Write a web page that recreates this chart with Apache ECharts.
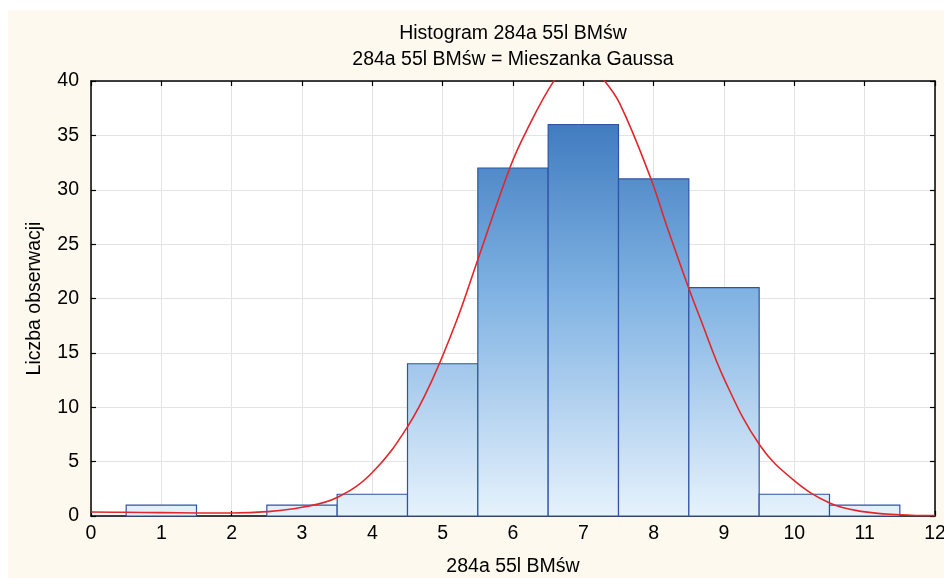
<!DOCTYPE html>
<html>
<head>
<meta charset="utf-8">
<script src="https://cdn.jsdelivr.net/npm/echarts@6/dist/echarts.min.js"></script>
<style>
  html, body { margin: 0; padding: 0; background: #ffffff; }
  #chart { position: absolute; left: 8px; top: 10px; width: 936px; height: 568px; }
</style>
</head>
<body>
<div id="chart"></div>
<script>
// bin centres and counts of the histogram
const binCenters = [1, 2, 3, 4, 5, 6, 7, 8, 9, 10, 11];
const binCounts = [1, 0, 1, 2, 14, 32, 36, 31, 21, 2, 1];
const binWidth = 1;

// fitted Gaussian mixture curve
const curveX = [0, 0.5, 1, 1.5, 2, 2.5, 3, 3.5, 4, 4.5, 4.85, 5.2, 5.48, 5.96, 6.19, 6.57, 6.75, 6.93, 7.1, 7.29, 7.52, 7.95, 8.19, 8.49, 8.66, 9.01, 9.51, 9.99, 10.51, 10.98, 11.5, 12];
const curveY = [0.37, 0.34, 0.31, 0.28, 0.27, 0.4, 0.8, 1.7, 4.0, 8.2, 12.5, 18.0, 23.2, 32.1, 35.4, 39.9, 41.0, 41.4, 41.2, 40.1, 37.9, 31.2, 26.6, 21.1, 18.2, 12.5, 6.5, 3.3, 1.17, 0.4, 0.12, 0.03];

const xTicks = [0, 1, 2, 3, 4, 5, 6, 7, 8, 9, 10, 11, 12];
const yTicks = [0, 5, 10, 15, 20, 25, 30, 35, 40];

const titleText = 'Histogram 284a 55l BMśw';
const subTitleText = '284a 55l BMśw = Mieszanka Gaussa';
const xName = '284a 55l BMśw';
const yName = 'Liczba obserwacji';

const font = '"Liberation Sans", Arial, sans-serif';
const fs = 19.5;

const chart = echarts.init(document.getElementById('chart'));

const barFill = new echarts.graphic.LinearGradient(0, 71, 0, 506, [
  { offset: 0, color: '#3a73ba' },
  { offset: 0.1, color: '#417cc0' },
  { offset: 0.475, color: '#7eb1e2' },
  { offset: 1, color: '#e6f2fc' }
], true);

const axisCommon = {
  type: 'value',
  axisLine: { show: true, onZero: false, lineStyle: { color: '#000', width: 1.5 } },
  axisTick: { show: true, inside: true, length: 5, lineStyle: { color: '#000', width: 1.2 } }
};

const option = {
  animation: false,
  backgroundColor: '#fdf9ee',
  title: [
    { text: titleText, left: 500, top: 9, textAlign: 'center',
      textStyle: { fontFamily: font, fontSize: fs, fontWeight: 'normal', color: '#000' } },
    { text: subTitleText, left: 500, top: 35, textAlign: 'center',
      textStyle: { fontFamily: font, fontSize: fs, fontWeight: 'normal', color: '#000' } }
  ],
  grid: {
    left: 83, top: 71, right: 9, bottom: 62,
    outerBoundsMode: 'none', containLabel: false,
    show: true, backgroundColor: '#ffffff', borderWidth: 0
  },
  xAxis: [
    Object.assign({}, axisCommon, {
      position: 'bottom', min: 0, max: 12, interval: 1,
      name: xName, nameLocation: 'middle', nameGap: 41,
      nameTextStyle: { fontFamily: font, fontSize: fs, color: '#000' },
      axisLabel: { fontFamily: font, fontSize: fs, color: '#000', margin: 8,
        formatter: v => (xTicks.indexOf(v) >= 0 ? String(v) : '') },
      splitLine: { show: true, lineStyle: { color: '#e3e3e3', width: 1 } }
    }),
    Object.assign({}, axisCommon, {
      position: 'top', min: 0, max: 12, interval: 1,
      axisLabel: { show: false }, splitLine: { show: false }
    })
  ],
  yAxis: [
    Object.assign({}, axisCommon, {
      position: 'left', min: 0, max: 40, interval: 5,
      name: yName, nameLocation: 'middle', nameGap: 46,
      nameTextStyle: { fontFamily: font, fontSize: fs, color: '#000' },
      axisLabel: { fontFamily: font, fontSize: fs, color: '#000', margin: 12,
        formatter: v => (yTicks.indexOf(v) >= 0 ? String(v) : '') },
      splitLine: { show: true, lineStyle: { color: '#e3e3e3', width: 1 } }
    }),
    Object.assign({}, axisCommon, {
      position: 'right', min: 0, max: 40, interval: 5,
      axisLabel: { show: false }, splitLine: { show: false }
    })
  ],
  series: [
    {
      type: 'custom',
      xAxisIndex: 0,
      yAxisIndex: 0,
      data: binCenters.map((c, i) => [c, binCounts[i]]),
      renderItem: function (params, api) {
        const c = api.value(0);
        const v = api.value(1);
        if (!v) return null;
        const p0 = api.coord([c - binWidth / 2, v]);
        const p1 = api.coord([c + binWidth / 2, 0]);
        return {
          type: 'rect',
          shape: { x: p0[0], y: p0[1], width: p1[0] - p0[0], height: p1[1] - p0[1] },
          style: { fill: barFill, stroke: '#2f52a6', lineWidth: 1.2 }
        };
      },
      z: 2
    },
    {
      type: 'line',
      xAxisIndex: 0,
      yAxisIndex: 0,
      data: curveX.map((x, i) => [x, curveY[i]]),
      smooth: 0.4,
      showSymbol: false,
      clip: true,
      lineStyle: { color: '#e3262b', width: 1.6 },
      z: 3
    }
  ]
};

chart.setOption(option);
</script>
</body>
</html>
